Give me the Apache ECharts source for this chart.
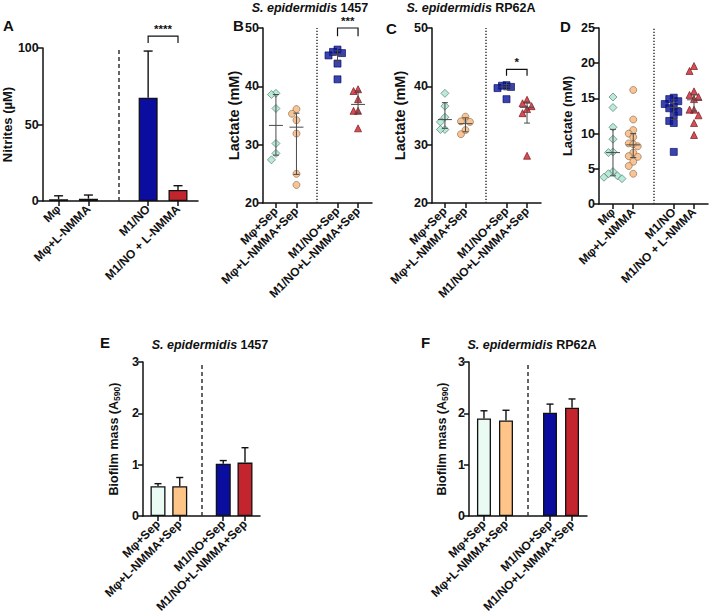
<!DOCTYPE html>
<html lang="en">
<head>
<meta charset="UTF-8">
<title>Nitrites, lactate and biofilm</title>
<script src="https://cdn.jsdelivr.net/npm/echarts@6/dist/echarts.min.js"></script>
<style>
    html, body { margin: 0; padding: 0; background: #fff; }
    #main { width: 709px; height: 616px; }
</style>
</head>
<body>
<div id="main"></div>
<script>
// categories
var catsNO = ['Mφ', 'Mφ+L-NMMA', 'M1/NO', 'M1/NO + L-NMMA'];
var catsSep = ['Mφ+Sep', 'Mφ+L-NMMA+Sep', 'M1/NO+Sep', 'M1/NO+L-NMMA+Sep'];
var slots = [0, 1, 3, 4]; // slot 2 is the gap holding the divider

// A - nitrites (mean, top of SD bar)
var nitriteMean = [1.1, 1.5, 67.5, 7.2];
var nitriteTop = [3.4, 3.9, 98, 10];

// B - lactate, S. epidermidis 1457
var b_mphi = [38.8, 38.6, 36.2, 30.2, 28.5, 27.4];
var b_mphiL = [36.1, 35.3, 34.2, 31.9, 25.0, 23.1];
var b_m1 = [46.3, 45.9, 45.7, 45.3, 43.9, 41.2];
var b_m1L = [39.5, 39.2, 37.8, 35.8, 35.8, 32.8];
var b_med = [33.3, 33.0, 45.5, 36.9];
var b_lo = [28.2, 24.9, 44.2, 35.4];
var b_hi = [38.6, 35.4, 46.1, 39.2];

// C - lactate, S. epidermidis RP62A
var c_mphi = [38.8, 36.6, 34.7, 33.9, 32.6, 32.6];
var c_mphiL = [34.8, 34.0, 33.9, 32.5, 31.8];
var c_m1 = [40.2, 40.1, 39.9, 39.7, 37.8];
var c_m1L = [37.7, 37.1, 36.6, 36.1, 35.4, 28.1];
var c_med = [34.3, 33.6, 39.9, 36.4];
var c_lo = [32.8, 32.2, 39.4, 33.7];
var c_hi = [37.2, 34.6, 40.3, 37.3];

// D - lactate, no bacteria
var d_mphi = [15.2, 13.7, 10.9, 9.2, 7.4, 7.3, 4.6, 4.3, 4.0, 3.8, 3.6];
var d_mphiL = [16.2, 12.0, 10.5, 10.0, 9.5, 8.6, 8.5, 8.2, 7.3, 6.8, 6.7, 6.0, 5.4, 4.3];
var d_m1 = [15.1, 14.9, 14.6, 14.2, 13.8, 13.6, 13.1, 12.6, 11.8, 11.5, 7.4];
var d_m1L = [19.6, 18.9, 16.0, 15.5, 15.2, 14.9, 13.4, 13.4, 12.6, 11.5, 9.8];
var d_med = [7.3, 8.4, 13.7, 14.8];
var d_lo = [4.0, 6.6, 12.0, 13.2];
var d_hi = [10.6, 10.0, 14.8, 15.5];

// E / F - biofilm mass
var e_mean = [0.58, 0.58, 1.02, 1.04];
var e_top = [0.63, 0.75, 1.08, 1.33];
var f_mean = [1.90, 1.86, 2.01, 2.11];
var f_top = [2.05, 2.06, 2.18, 2.28];

var font = '"Liberation Sans", Arial, sans-serif';
var ink = '#111';
var fillBar = ['#e9fbf3', '#ffc488', '#0a0d9e', '#c4242e'];
var fillDot = ['#a9e6cf', '#f7b57a', '#0a14a0', '#cc1f2e'];
var edgeDot = ['#4a6f60', '#8a6a48', '#03084f', '#6a1010'];
var symbols = ['diamond', 'circle', 'rect', 'triangle'];

function xAxisFor(gi, cats, xmin, xmax) {
    return {
        type: 'value', gridIndex: gi, min: xmin, max: xmax,
        axisLine: { show: true, onZero: false, lineStyle: { color: ink, width: 1.5 } },
        axisTick: { show: true, customValues: slots, length: 5, lineStyle: { color: ink, width: 1.5 } },
        axisLabel: {
            customValues: slots, rotate: 45, margin: 6, color: ink,
            fontWeight: 'bold', fontSize: 12, fontFamily: font,
            formatter: function (v) { return cats[slots.indexOf(v)]; }
        },
        splitLine: { show: false }
    };
}

function yAxisFor(gi, min, max, interval, name, gap, nameSize, rich) {
    return {
        type: 'value', gridIndex: gi, min: min, max: max, interval: interval,
        name: name, nameLocation: 'middle', nameGap: gap,
        nameTextStyle: { fontWeight: 'bold', fontSize: nameSize, color: ink, fontFamily: font, rich: rich },
        axisLine: { show: true, onZero: false, lineStyle: { color: ink, width: 1.5 } },
        axisTick: { show: true, length: 5, lineStyle: { color: ink, width: 1.5 } },
        axisLabel: { color: ink, fontWeight: 'bold', fontSize: 12.5, fontFamily: font, margin: 4 },
        splitLine: { show: false }
    };
}

// simple beeswarm: push overlapping points sideways
function swarm(vals, tol, step) {
    var placed = [];
    return vals.map(function (v) {
        var cands = [0, -1, 1, -2, 2];
        for (var i = 0; i < cands.length; i++) {
            var c = cands[i];
            var hit = placed.some(function (p) { return p.c === c && Math.abs(p.v - v) < tol; });
            if (!hit) { placed.push({ v: v, c: c }); return c * step; }
        }
        return 0;
    });
}

function divider(yLo, yHi, type) {
    return {
        silent: true, symbol: ['none', 'none'], label: { show: false },
        lineStyle: { color: '#333', width: 1.5, type: type },
        data: [[{ coord: [2, yLo] }, { coord: [2, yHi] }]]
    };
}

function dotSeries(gi, groups, tol, div) {
    return groups.map(function (vals, k) {
        var offs = swarm(vals, tol, 4.5);
        var s = {
            type: 'scatter', xAxisIndex: gi, yAxisIndex: gi, z: 3,
            symbol: symbols[k], symbolSize: k === 0 ? 8 : 7,
            itemStyle: { color: fillDot[k], borderColor: edgeDot[k], borderWidth: 0.8 },
            data: vals.map(function (v, i) {
                return { value: [slots[k], v], symbolOffset: [offs[i], 0] };
            })
        };
        if (k === 0) s.markLine = div;
        return s;
    });
}

function summarySeries(gi, med, lo, hi) {
    return {
        type: 'custom', xAxisIndex: gi, yAxisIndex: gi, z: 4, clip: false,
        data: med.map(function (m, k) { return [slots[k], m, lo[k], hi[k]]; }),
        renderItem: function (params, api) {
            var x = api.value(0);
            var pm = api.coord([x, api.value(1)]);
            var pl = api.coord([x, api.value(2)]);
            var ph = api.coord([x, api.value(3)]);
            var st = { stroke: '#4a4a4a', lineWidth: 1 };
            return {
                type: 'group', children: [
                    { type: 'line', shape: { x1: pm[0] - 7, y1: pm[1], x2: pm[0] + 7, y2: pm[1] }, style: st },
                    { type: 'line', shape: { x1: pl[0], y1: pl[1], x2: ph[0], y2: ph[1] }, style: st },
                    { type: 'line', shape: { x1: pl[0] - 3, y1: pl[1], x2: pl[0] + 3, y2: pl[1] }, style: st },
                    { type: 'line', shape: { x1: ph[0] - 3, y1: ph[1], x2: ph[0] + 3, y2: ph[1] }, style: st }
                ]
            };
        }
    };
}

function barSeries(gi, means, width, div) {
    return {
        type: 'bar', xAxisIndex: gi, yAxisIndex: gi, barWidth: width, z: 2,
        itemStyle: { borderColor: ink, borderWidth: 1.3 },
        data: means.map(function (m, k) {
            return { value: [slots[k], m], itemStyle: { color: fillBar[k] } };
        }),
        markLine: div
    };
}

function errSeries(gi, means, tops, cap) {
    return {
        type: 'custom', xAxisIndex: gi, yAxisIndex: gi, z: 1, clip: false,
        data: means.map(function (m, k) { return [slots[k], m, tops[k]]; }),
        renderItem: function (params, api) {
            var pm = api.coord([api.value(0), api.value(1)]);
            var pt = api.coord([api.value(0), api.value(2)]);
            var st = { stroke: ink, lineWidth: 1.4 };
            return {
                type: 'group', children: [
                    { type: 'line', shape: { x1: pm[0], y1: pm[1], x2: pt[0], y2: pt[1] }, style: st },
                    { type: 'line', shape: { x1: pt[0] - cap, y1: pt[1], x2: pt[0] + cap, y2: pt[1] }, style: st }
                ]
            };
        }
    };
}

function bracketSeries(gi, top, leg, stars) {
    return {
        type: 'custom', xAxisIndex: gi, yAxisIndex: gi, z: 5, clip: false,
        data: [[3, 4, top, leg]],
        renderItem: function (params, api) {
            var a = api.coord([api.value(0), api.value(3)]);
            var b = api.coord([api.value(0), api.value(2)]);
            var c = api.coord([api.value(1), api.value(2)]);
            var d = api.coord([api.value(1), api.value(3)]);
            return {
                type: 'group', children: [
                    { type: 'polyline', shape: { points: [a, b, c, d] }, style: { stroke: ink, lineWidth: 1.2, fill: null } },
                    { type: 'text', x: (b[0] + c[0]) / 2, y: b[1] - 1,
                      style: { text: stars, align: 'center', verticalAlign: 'bottom', fontSize: 11.5, fontWeight: 'bold', fontFamily: font, fill: ink } }
                ]
            };
        }
    };
}

var subRich = {
    a: { fontWeight: 'bold', fontSize: 12.5, fontFamily: font, color: ink },
    s: { fontWeight: 'bold', fontSize: 8.5, fontFamily: font, color: ink, verticalAlign: 'bottom', padding: [6, 0, 0, 0] }
};
var biofilmName = '{a|Biofilm mass (A}{s|590}{a|)}';

var grids = [
    { left: 42, top: 48, width: 156, height: 153 },
    { left: 263, top: 28, width: 109, height: 175 },
    { left: 432, top: 28, width: 109, height: 175 },
    { left: 599, top: 28, width: 109, height: 176 },
    { left: 143, top: 362, width: 117, height: 154 },
    { left: 469, top: 362, width: 118, height: 154 }
];

var xAxes = [
    xAxisFor(0, catsNO, -0.53, 4.67),
    xAxisFor(1, catsSep, -0.63, 4.68),
    xAxisFor(2, catsSep, -0.63, 4.68),
    xAxisFor(3, catsNO, -0.69, 4.69),
    xAxisFor(4, catsSep, -0.69, 4.69),
    xAxisFor(5, catsSep, -0.68, 4.68)
];

var yAxes = [
    yAxisFor(0, 0, 100, 50, 'Nitrites (µM)', 26, 13),
    yAxisFor(1, 20, 50, 10, 'Lactate (mM)', 22, 14.5),
    yAxisFor(2, 20, 50, 10, 'Lactate (mM)', 25, 14.5),
    yAxisFor(3, 0, 25, 5, 'Lactate (mM)', 25, 13),
    yAxisFor(4, 0, 3, 1, biofilmName, 22, 12.5, subRich),
    yAxisFor(5, 0, 3, 1, biofilmName, 20, 12.5, subRich)
];

var series = [].concat(
    [barSeries(0, nitriteMean, 19, divider(0, 100, [4, 3])), errSeries(0, nitriteMean, nitriteTop, 4.5),
     bracketSeries(0, 107.8, 103.3, '****')],
    dotSeries(1, [b_mphi, b_mphiL, b_m1, b_m1L], 1.2, divider(20, 50, [1.2, 1.8])),
    [summarySeries(1, b_med, b_lo, b_hi), bracketSeries(1, 50.0, 48.6, '***')],
    dotSeries(2, [c_mphi, c_mphiL, c_m1, c_m1L], 1.2, divider(20, 50, [1.2, 1.8])),
    [summarySeries(2, c_med, c_lo, c_hi), bracketSeries(2, 42.9, 41.8, '*')],
    dotSeries(3, [d_mphi, d_mphiL, d_m1, d_m1L], 1.0, divider(0, 25, [1.2, 1.8])),
    [summarySeries(3, d_med, d_lo, d_hi)],
    [barSeries(4, e_mean, 15, divider(0, 3, [4, 3])), errSeries(4, e_mean, e_top, 3.5)],
    [barSeries(5, f_mean, 14, divider(0, 3, [4, 3])), errSeries(5, f_mean, f_top, 3.5)]
);

var titleRich = {
    i: { fontStyle: 'italic', fontWeight: 'bold', fontSize: 12.5, fontFamily: font, fill: ink },
    b: { fontWeight: 'bold', fontSize: 12.5, fontFamily: font, fill: ink }
};
function letter(t, x, y) {
    return { type: 'text', x: x, y: y, style: { text: t, fontSize: 15, fontWeight: 'bold', fontFamily: font, fill: ink } };
}
function heading(t, x, y) {
    return { type: 'text', x: x, y: y, style: { text: t, rich: titleRich, align: 'center', fill: ink } };
}

var graphics = [
    letter('A', 3, 18), letter('B', 233, 18), letter('C', 386, 21), letter('D', 560, 19),
    letter('E', 100, 335), letter('F', 421, 335),
    heading('{i|S. epidermidis} {b|1457}', 310, 1),
    heading('{i|S. epidermidis} {b|RP62A}', 471, 1),
    heading('{i|S. epidermidis} {b|1457}', 210, 338),
    heading('{i|S. epidermidis} {b|RP62A}', 532, 338)
];

var chart = echarts.init(document.getElementById('main'), null, { renderer: 'svg' });
chart.setOption({
    backgroundColor: '#fff',
    animation: false,
    textStyle: { fontFamily: font },
    grid: grids,
    xAxis: xAxes,
    yAxis: yAxes,
    series: series,
    graphic: graphics
});
</script>
</body>
</html>
